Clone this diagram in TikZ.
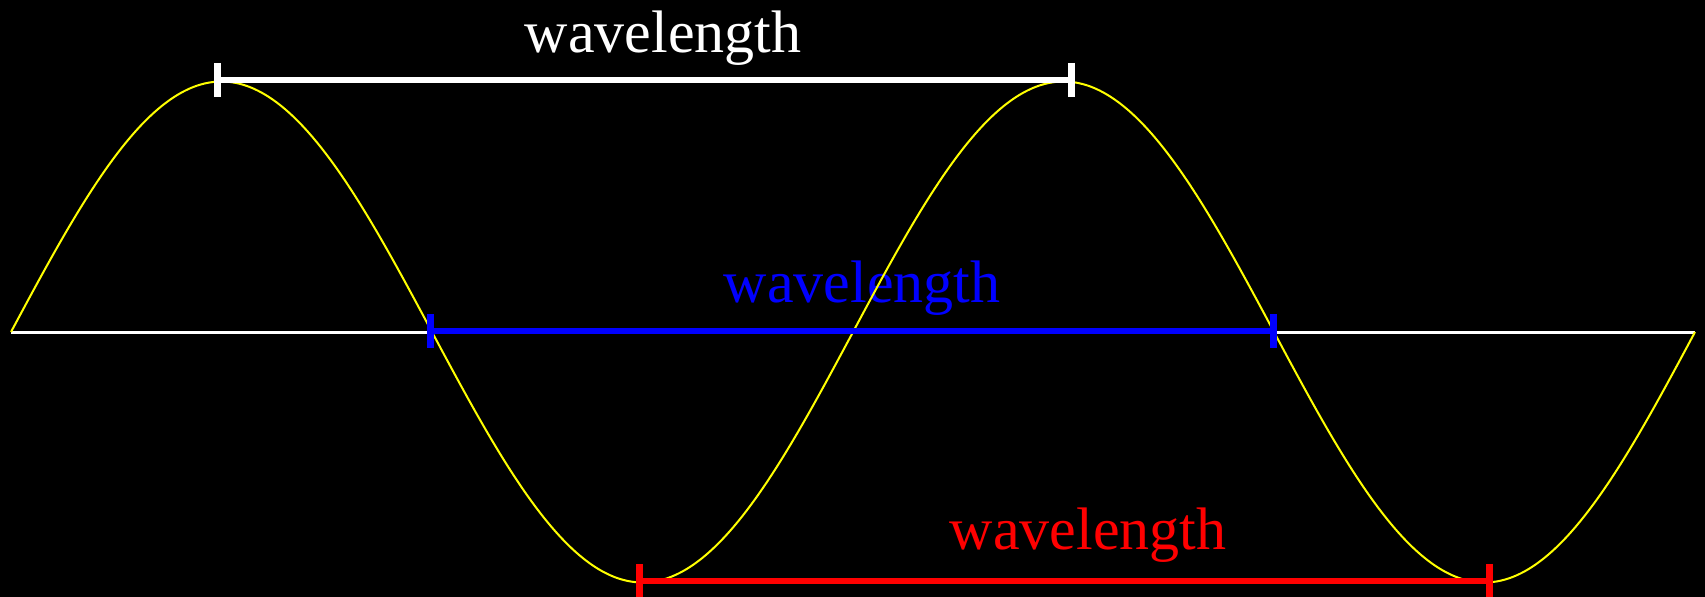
\documentclass[tikz,border=0pt]{standalone}
\usepackage{fontspec}
\setmainfont{Liberation Serif}
\usepackage{xcolor}
\usepackage{tikz}
\usetikzlibrary{arrows.meta}
\definecolor{wvyellow}{RGB}{255,255,0}
\definecolor{wvblue}{RGB}{0,0,255}
\definecolor{wvred}{RGB}{255,0,0}

\tikzset{
  wlbar/.style={line width=3pt, {Bar[width=17pt,line width=3.5pt]}-{Bar[width=17pt,line width=3.5pt]}},
  wllabel/.style={anchor=base, inner sep=0pt, font=\fontsize{30}{36}\selectfont},
}

\begin{document}
\begin{tikzpicture}[x=0.5pt, y=-0.5pt]
% background
\fill[black] (0,0) rectangle (1705,597);
\useasboundingbox (0,0) rectangle (1705,597);

% labels
\node[wllabel, white] (lblwhite) at (663,53) {wavelength};
\node[wllabel, wvblue] (lblblue) at (862,303) {wavelength};
\node[wllabel, wvred] (lblred) at (1088,550) {wavelength};

% axis
\coordinate (axl) at (11,332.5);
\coordinate (axr) at (1695,332.5);
\draw[white, line width=1.5pt] (axl) -- (axr);

% wave
\draw[wvyellow, line width=1pt, line join=round]
  plot[domain=11:1695, samples=400, smooth] (\x, {332 - 250.5*sin((\x-11)/842*360)});

% wavelength bars
\coordinate (wl) at (214,80);
\coordinate (wr) at (1075,80);
\coordinate (bl) at (427,331);
\coordinate (br) at (1277,331);
\coordinate (rl) at (636,581);
\coordinate (rr) at (1493,581);
\draw[wlbar, white] (wl) -- (wr);
\draw[wlbar, wvblue] (bl) -- (br);
\draw[wlbar, wvred] (rl) -- (rr);
\end{tikzpicture}
\end{document}
